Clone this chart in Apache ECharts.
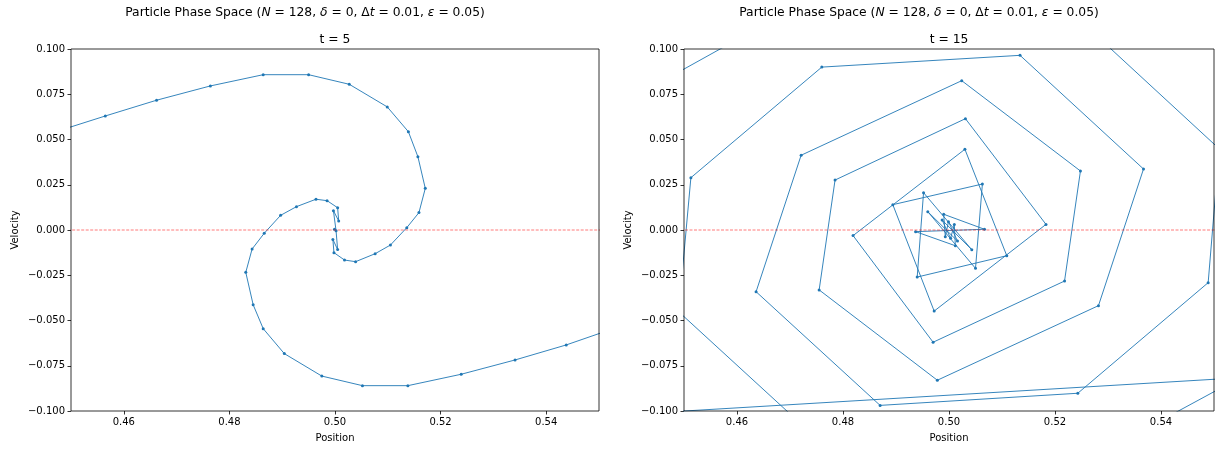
<!DOCTYPE html>
<html><head><meta charset="utf-8">
<script src="https://cdn.jsdelivr.net/npm/echarts@6/dist/echarts.min.js"></script>
<style>html,body{margin:0;padding:0;background:#fff}#c{width:1219px;height:450px}</style>
</head><body><div id="c"></div>
<script>
// ---- tick labels / titles ----
const xTicks = [0.46, 0.48, 0.50, 0.52, 0.54];
const yTicks = [-0.1, -0.075, -0.05, -0.025, 0, 0.025, 0.05, 0.075, 0.1];
const panelTitles = ['t = 5', 't = 15'];

// ---- t = 5 particle chain (position, velocity) ----
const t5Pos = [0.4468,0.4565,0.4662,0.4764,0.4864,0.4950,0.5027,0.5099,0.5139,0.5157,0.5171,0.5159,0.5136,0.5105,0.5076,0.5039,0.5018,0.4998,
  0.4996,0.5005,0.5002,0.4999,0.4997,0.5007,
  0.5005,0.4985,0.4964,0.4927,0.4897,0.4866,0.4843,0.4831,0.4845,0.4864,0.4904,0.4975,0.5052,0.5138,0.5239,0.5341,0.5438,0.5532];
const t5Vel = [0.0540,0.0630,0.0717,0.0796,0.0858,0.0858,0.0805,0.0680,0.0543,0.0405,0.0230,0.0096,0.0013,-0.0083,-0.0131,-0.0175,-0.0166,-0.0125,
  -0.0052,-0.0108,-0.0004,0.0004,0.0107,0.0050,
  0.0123,0.0162,0.0170,0.0129,0.0081,-0.0018,-0.0105,-0.0234,-0.0413,-0.0545,-0.0683,-0.0807,-0.0860,-0.0860,-0.0797,-0.0718,-0.0635,-0.0540];

// ---- t = 15 particle chain ----
const t15Pos = [0.4490,0.4513,0.4760,0.5134,0.5367,0.5282,0.4978,0.4755,0.4785,0.5031,0.5183,0.4972,0.4894,0.5063,0.5050,
  0.4960,0.5016,0.4999,0.4993,0.4990,0.5067,0.4937,0.5012,0.5010,0.5003,0.4987,0.5043,
  0.4952,0.4940,0.5109,0.5030,0.4819,0.4970,0.5218,0.5248,0.5024,0.4721,0.4636,0.4870,0.5243,0.5489,0.5510];
const t15Vel = [-0.0450,0.0289,0.0900,0.0965,0.0337,-0.0418,-0.0830,-0.0331,0.0276,0.0615,0.0031,-0.0448,0.0140,0.0254,-0.0212,
  0.0101,-0.0061,0.0046,-0.0037,0.0087,0.0004,-0.0009,-0.0087,0.0031,-0.0046,0.0055,-0.0109,
  0.0206,-0.0260,-0.0142,0.0446,-0.0031,-0.0620,-0.0282,0.0326,0.0825,0.0413,-0.0341,-0.0969,-0.0902,-0.0291,0.0450];
// segments of the chain that only cross the visible window
const t15CrossAPos = [0.4460, 0.4605], t15CrossAVel = [0.0824, 0.1060];
const t15CrossBPos = [0.5540, 0.5395], t15CrossBVel = [-0.0830, -0.1060];
const t15CrossCPos = [0.4470, 0.4715], t15CrossCVel = [-0.0398, -0.1056];
const t15CrossDPos = [0.5530, 0.5285], t15CrossDVel = [0.0394, 0.1056];
const t15CrossEPos = [0.4450, 0.5550], t15CrossEVel = [-0.1009, -0.0816];

const zip = (a, b) => a.map((v, i) => [v, b[i]]);
const BLUE = '#1f77b4';
const FONT = 'DejaVu Sans';

function chain(data, gi, sym) {
  return {
    type: 'line', xAxisIndex: gi, yAxisIndex: gi, data: data,
    clip: true, smooth: false,
    symbol: sym ? 'circle' : 'none', symbolSize: 3, showSymbol: sym,
    lineStyle: { color: BLUE, width: 0.9 }, itemStyle: { color: BLUE },
    z: 3, silent: true
  };
}
function zeroLine(gi) {
  return {
    type: 'line', xAxisIndex: gi, yAxisIndex: gi, data: [[0.44, 0], [0.56, 0]],
    symbol: 'none', clip: true,
    lineStyle: { color: 'rgba(255,0,0,0.75)', width: 0.7, type: [3, 1.5] }, z: 4, silent: true
  };
}
const grids = [
  { left: 71, top: 49, width: 528, height: 362 },
  { left: 684, top: 49, width: 530, height: 362 }
];
function xAx(gi) {
  return {
    type: 'value', gridIndex: gi, min: 0.45, max: 0.55, position: 'bottom',
    name: 'Position', nameLocation: 'middle', nameGap: 22,
    nameTextStyle: { fontFamily: FONT, fontSize: 10, color: '#000' },
    axisLine: { show: false, onZero: false },
    axisTick: { show: true, length: 3.5, customValues: xTicks, lineStyle: { color: '#000', width: 0.8 } },
    axisLabel: { customValues: xTicks, margin: 6, fontFamily: FONT, fontSize: 10, color: '#000',
      formatter: v => v.toFixed(2) },
    splitLine: { show: false }
  };
}
function yAx(gi) {
  return {
    type: 'value', gridIndex: gi, min: -0.1, max: 0.1, position: 'left',
    name: 'Velocity', nameLocation: 'middle', nameGap: 51,
    nameTextStyle: { fontFamily: FONT, fontSize: 10, color: '#000' },
    axisLine: { show: false, onZero: false },
    axisTick: { show: true, length: 3.5, customValues: yTicks, lineStyle: { color: '#000', width: 0.8 } },
    axisLabel: { customValues: yTicks, margin: 6, fontFamily: FONT, fontSize: 10, color: '#000',
      formatter: v => (v < -1e-9 ? '\u2212' : '') + Math.abs(v).toFixed(3) },
    splitLine: { show: false }
  };
}
const titleRich = {
  a: { fontFamily: FONT, fontSize: 12.3, fill: '#000', color: '#000' },
  b: { fontFamily: FONT, fontSize: 12.3, fill: '#000', color: '#000', fontStyle: 'italic' }
};
const supText = '{a|Particle Phase Space (}{b|N}{a| = 128, }{b|δ}{a| = 0, Δ}{b|t}{a| = 0.01, }{b|ε}{a| = 0.05)}';
function titles(cx, cx2, sub) {
  return [
    { type: 'text', x: cx, y: 7, style: { text: supText, rich: titleRich, textAlign: 'center', textVerticalAlign: 'top', fontSize: 12.3, fontFamily: FONT, fill: '#000' } },
    { type: 'text', x: cx2, y: 34, style: { text: sub, textAlign: 'center', textVerticalAlign: 'top', fontSize: 12.3, fontFamily: FONT, fill: '#000' } }
  ];
}
const gridBoxes = grids.map(g => ({ type: 'rect', shape: { x: g.left, y: g.top, width: g.width, height: g.height },
  style: { fill: 'none', stroke: '#000', lineWidth: 0.8 }, z: 10, silent: true }));

const option = {
  animation: false,
  backgroundColor: '#fff',
  grid: grids,
  xAxis: [xAx(0), xAx(1)],
  yAxis: [yAx(0), yAx(1)],
  graphic: [...titles(305, 335, panelTitles[0]), ...titles(919, 949, panelTitles[1]), ...gridBoxes],
  series: [
    chain(zip(t5Pos, t5Vel), 0, true), zeroLine(0),
    chain(zip(t15Pos, t15Vel), 1, true),
    chain(zip(t15CrossAPos, t15CrossAVel), 1, false),
    chain(zip(t15CrossBPos, t15CrossBVel), 1, false),
    chain(zip(t15CrossCPos, t15CrossCVel), 1, false),
    chain(zip(t15CrossDPos, t15CrossDVel), 1, false),
    chain(zip(t15CrossEPos, t15CrossEVel), 1, false),
    zeroLine(1)
  ]
};
const chart = echarts.init(document.getElementById('c'), null, { renderer: 'canvas' });
chart.setOption(option);
</script></body></html>
